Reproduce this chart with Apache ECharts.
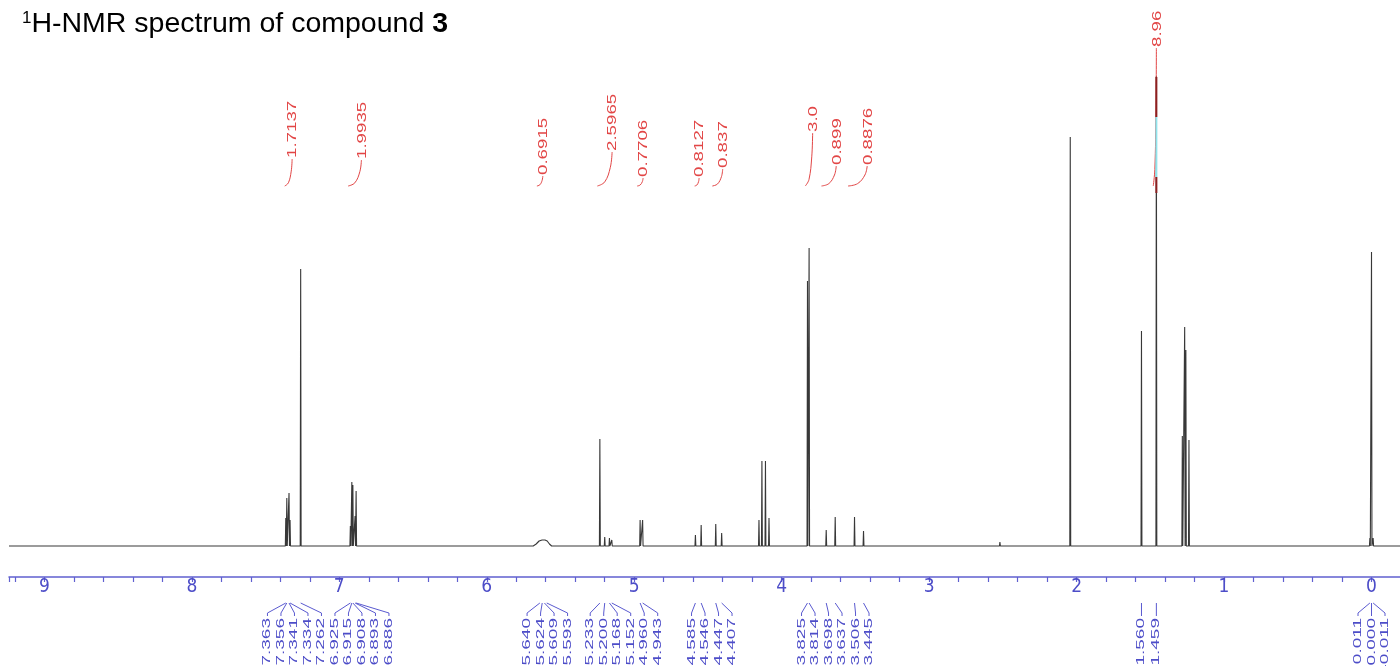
<!DOCTYPE html>
<html><head><meta charset="utf-8">
<script src="https://cdn.jsdelivr.net/npm/echarts@6/dist/echarts.min.js"></script>
<style>html,body{margin:0;padding:0;background:#fff}#c{width:1400px;height:666px}</style>
</head><body><div id="c"></div>
<script>
// ---------- data ----------
// sharp lines: chemical shift (ppm) and height above baseline (arbitrary units)
const peakPpm = [7.363, 7.356, 7.341, 7.334, 7.262, 6.925, 6.915, 6.908, 6.893, 6.886,
  5.233, 5.200, 5.168, 5.152, 4.960, 4.943, 4.585, 4.546, 4.447, 4.407,
  4.154, 4.134, 4.110, 4.086, 3.825, 3.814, 3.698, 3.637, 3.506, 3.445,
  2.520, 2.043, 1.560, 1.459, 1.283, 1.267, 1.259, 1.238, 0.011, 0.000, -0.011];
const peakHeight = [28, 48, 53, 26, 277, 20, 64, 61, 30, 55,
  107, 9, 8, 6, 26, 26, 11, 21, 22, 13,
  26, 85, 85, 28, 265, 298, 16, 29, 29, 15,
  4, 409, 215, 470, 110, 219, 196, 106, 8, 294, 8];
// broad multiplet near 5.6 ppm
const humpPpm = [5.685, 5.665, 5.645, 5.625, 5.605, 5.590, 5.575, 5.560];
const humpHeight = [0, 2, 5, 6, 6, 5, 2, 0];
// peak-pick labels (blue, below axis)
const peakLabels = ['7.363','7.356','7.341','7.334','7.262','6.925','6.915','6.908','6.893','6.886',
  '5.640','5.624','5.609','5.593','5.233','5.200','5.168','5.152','4.960','4.943',
  '4.585','4.546','4.447','4.407','3.825','3.814','3.698','3.637','3.506','3.445',
  '1.560','1.459','0.011','0.000','-0.011'];
// integrals (red, above spectrum)
const integralLabels = ['1.7137','1.9935','0.6915','2.5965','0.7706','0.8127','0.837','3.0','0.899','0.8876','8.96'];
const integralFrom = [7.37, 6.94, 5.66, 5.25, 4.98, 4.59, 4.47, 3.84, 3.73, 3.55, 1.48];
const integralTo   = [7.32, 6.85, 5.62, 5.15, 4.94, 4.56, 4.40, 3.79, 3.63, 3.42, 1.459];
const integralRise = [27, 26, 10, 34, 8, 8, 17, 53, 20, 20, 138];
const axisMin = -0.2, axisMax = 9.24;

// ---------- build spectrum trace ----------
const W = 0.003;
const events = peakPpm.map((p, i) => ({ key: p, pts: [[p + W, 0], [p, peakHeight[i]], [p - W, 0]] }));
events.push({ key: humpPpm[0], pts: humpPpm.map((p, i) => [p, humpHeight[i]]) });
events.sort((a, b) => b.key - a.key);
const trace = [[axisMax, 0]];
events.forEach(e => e.pts.forEach(pt => trace.push(pt)));
trace.push([axisMin, 0]);

// label layout: neighbouring lines form groups, each group is centred and pushed right on collision
function spreadPositions(xs, gap, join) {
  const groups = [];
  xs.forEach((x, i) => {
    if (i > 0 && x - xs[i - 1] <= join) groups[groups.length - 1].push(i);
    else groups.push([i]);
  });
  const out = [];
  let prevEnd = -Infinity;
  groups.forEach(g => {
    const n = g.length;
    const mean = g.reduce((s, i) => s + xs[i], 0) / n + (n >= 4 ? 4 : 0);
    let start = Math.max(mean - (n - 1) * gap / 2, prevEnd + gap);
    g.forEach((id, k) => { out[id] = start + k * gap; });
    prevEnd = start + (n - 1) * gap;
  });
  return out;
}

const BLUE = '#4d4dc8', RED = '#e24646';
const chart = echarts.init(document.getElementById('c'), null, { renderer: 'canvas' });
chart.setOption({
  animation: false,
  backgroundColor: '#fff',
  title: {
    left: 22, top: 10, padding: 0,
    text: '{s|1}{t|H-NMR spectrum of compound }{b|3}',
    textStyle: {
      fontFamily: '"Liberation Sans", Arial, sans-serif', fontSize: 28.5, color: '#000', fontWeight: 'normal',
      rich: {
        s: { fontSize: 17, verticalAlign: 'top', fontFamily: '"Liberation Sans", Arial, sans-serif', color: '#000' },
        t: { fontSize: 28.5, fontFamily: '"Liberation Sans", Arial, sans-serif', color: '#000' },
        b: { fontSize: 28.5, fontWeight: 'bold', fontFamily: '"Liberation Sans", Arial, sans-serif', color: '#000' }
      }
    }
  },
  grid: { left: 9, width: 1392, top: 0, bottom: 120, containLabel: false, outerBoundsMode: 'none' },
  xAxis: {
    type: 'value', inverse: true, min: axisMin, max: axisMax, interval: 0.2, offset: 31,
    axisLine: { show: true, onZero: false, lineStyle: { color: '#6060d0', width: 1.5 } },
    axisTick: { show: true, length: 5, lineStyle: { color: '#6060d0', width: 1.2 } },
    axisLabel: {
      color: BLUE, fontFamily: '"Liberation Sans Narrow", "DejaVu Sans Condensed", sans-serif', fontSize: 19, margin: 1,
      formatter: v => (Math.abs(v - Math.round(v)) < 1e-6 ? String(Math.round(v)) : '')
    },
    splitLine: { show: false }
  },
  yAxis: { type: 'value', min: 0, max: 546, show: false },
  series: [
    {
      type: 'line', data: trace, showSymbol: false, symbol: 'none', silent: true, z: 3,
      lineStyle: { color: '#383838', width: 1.1 }, clip: false
    },
    {
      type: 'custom', silent: true, clip: false, z: 4,
      data: peakLabels.map(s => [parseFloat(s), 0]),
      renderItem: function (params, api) {
        const ctx = params.context;
        if (!ctx.pos) {
          const xs = peakLabels.map(s => api.coord([parseFloat(s), 0])[0]);
          const order = xs.map((x, i) => i).sort((a, b) => xs[a] - xs[b]);
          const sp = spreadPositions(order.map(i => xs[i]), 13.5, 12);
          ctx.pos = []; order.forEach((i, k) => { ctx.pos[i] = sp[k]; });
          ctx.xs = xs;
        }
        const i = params.dataIndex;
        const axisY = api.coord([0, 0])[1] + 31;
        const px = ctx.xs[i], lx = ctx.pos[i];
        return {
          type: 'group',
          children: [
            { type: 'polyline', shape: { points: [[px, axisY + 26], [lx, axisY + 36], [lx, axisY + 39]] },
              style: { stroke: '#5a5ad0', lineWidth: 1, fill: 'none' } },
            { type: 'text', x: lx, y: axisY + 41, rotation: Math.PI / 2, scaleX: 1.9, scaleY: 1.1,
              style: { text: peakLabels[i], fill: BLUE, font: '10px "Liberation Sans", Arial, sans-serif',
                       align: 'right', verticalAlign: 'middle' } }
          ]
        };
      }
    },
    {
      type: 'custom', silent: true, clip: false, z: 5,
      data: integralLabels.map((s, i) => [integralTo[i], 0]),
      renderItem: function (params, api) {
        const i = params.dataIndex;
        const base = 186;
        const x0 = api.coord([integralFrom[i], 0])[0];
        const x1 = api.coord([integralTo[i], 0])[0];
        const r = integralRise[i];
        const top = base - r;
        const dx = x1 - x0;
        const children = [
          { type: 'polyline', shape: { points: [[x0, base], [x0 + 0.5 * dx, base - 0.12 * r], [x1 - 0.12 * dx, base - 0.55 * r], [x1, top]], smooth: 0.4 },
            style: { stroke: RED, lineWidth: 1, fill: 'none' } },
          { type: 'text', x: x1 + 1, y: top - 1, rotation: Math.PI / 2, scaleX: 1.7, scaleY: 1.1,
            style: { text: integralLabels[i], fill: RED, font: '11px "Liberation Sans", Arial, sans-serif',
                     align: 'left', verticalAlign: 'middle' } }
        ];
        if (r > 100) {
          children.push(
            { type: 'line', shape: { x1: x1, y1: 77, x2: x1, y2: 117 }, style: { stroke: '#8c2020', lineWidth: 2 } },
            { type: 'line', shape: { x1: x1, y1: 117, x2: x1, y2: 177 }, style: { stroke: '#8fe4ec', lineWidth: 2 } },
            { type: 'line', shape: { x1: x1, y1: 177, x2: x1, y2: 193 }, style: { stroke: '#8c2020', lineWidth: 2 } }
          );
        }
        return { type: 'group', children: children };
      }
    }
  ]
});
</script>
</body></html>
